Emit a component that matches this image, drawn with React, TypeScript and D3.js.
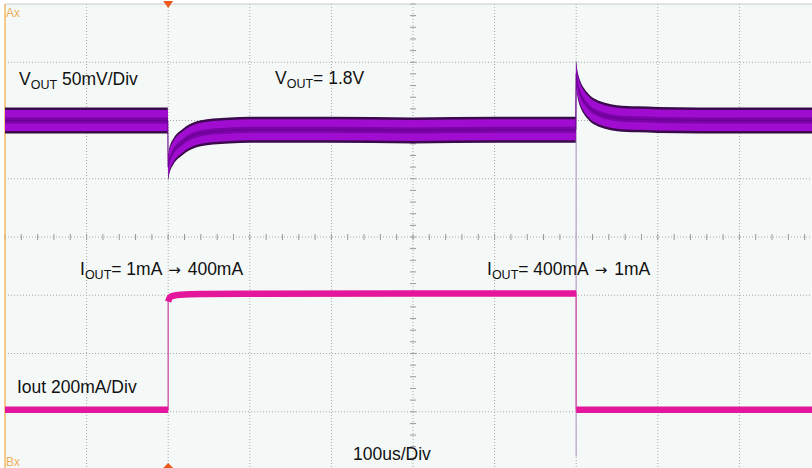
import React from "react";
import * as d3 from "d3";

// ---- data ----
// time axis in microseconds (100us / div)
const vTime = [0, 199.5, 200, 201, 203, 206, 210, 215, 222, 230, 240, 255, 275, 300, 350, 400, 500, 600, 699.5, 700, 701, 703, 706, 710, 716, 724, 735, 750, 775, 800, 900, 1000];
// VOUT deviation from 1.8V in mV (50mV / div)
const vMv = [0, 0, -40, -36, -31, -27, -23, -20, -16, -13, -11, -9.5, -8.5, -8, -8, -8, -8.5, -8, -8, 40, 34, 27, 21, 16, 11, 7, 4, 2, 1, 0.5, 0, 0];
// IOUT in mA (200mA / div)
const iTime = [0, 200, 200, 202, 206, 215, 240, 300, 500, 700, 700, 1000];
const iMa = [1, 1, 372, 386, 392, 396, 398, 399, 400, 400, 1, 1];

const W = 812;
const H = 468;
const left = 5;
const top = 4;
const divX = 81.6;
const divY = 58.25;

export default function App() {
  const x = d3.scaleLinear().domain([0, 1000]).range([left, left + 10 * divX]);
  const yV = d3.scaleLinear().domain([-300, 100]).range([top + 8 * divY, top]);
  const yI = d3.scaleLinear().domain([-206, 1394]).range([top + 8 * divY, top]);

  const vPts = vTime.map((t, i) => ({ t, v: vMv[i] }));
  const band = (hw: number) =>
    d3
      .area<{ t: number; v: number }>()
      .x((d) => x(d.t))
      .y0((d) => yV(d.v) - hw)
      .y1((d) => yV(d.v) + hw)
      .curve(d3.curveMonotoneX)(vPts) || "";
  const vLine =
    d3
      .line<{ t: number; v: number }>()
      .x((d) => x(d.t))
      .y((d) => yV(d.v))
      .curve(d3.curveMonotoneX)(vPts) || "";

  const iPts = iTime.map((t, i) => ({ t, v: iMa[i] }));
  const iLine = d3
    .line<{ t: number; v: number }>()
    .x((d) => x(d.t))
    .y((d) => yI(d.v));
  const iFull = iLine(iPts) || "";
  const iLow1 = iLine(iPts.slice(0, 2)) || "";
  const iHigh = iLine.curve(d3.curveMonotoneX)(iPts.slice(2, 10)) || "";
  const iLow2 = iLine.curve(d3.curveLinear)(iPts.slice(10)) || "";

  const vGrid = d3.range(1, 10).map((k) => left + k * divX);
  const hGrid = d3.range(1, 8).map((k) => top + k * divY);
  const cx = left + 5 * divX;
  const cy = top + 4 * divY;
  const xTicks = d3.range(0, 50).map((k) => left + (k * divX) / 5);
  const yTicks = d3.range(0, 40).map((k) => top + (k * divY) / 5);

  const font = "'Liberation Sans', Arial, Helvetica, sans-serif";
  const trig = x(200);
  const arrowFont = "'DejaVu Sans', sans-serif";

  return (
    <svg
      width={W}
      height={H}
      style={{ position: "absolute", left: 0, top: 0, background: "#ffffff" }}
      fontFamily={font}
    >
      <rect x={left} y={top} width={W - left} height={H - top} fill="#f4f9f7" />
      {/* grid */}
      <g stroke="#a9a9a9" strokeWidth={1} strokeDasharray="1,2">
        {vGrid.map((gx) => (
          <line key={"v" + gx} x1={gx} x2={gx} y1={top} y2={H} />
        ))}
        {hGrid.map((gy) => (
          <line key={"h" + gy} x1={left} x2={W} y1={gy} y2={gy} />
        ))}
      </g>
      <g stroke="#999" strokeWidth={1}>
        {xTicks.map((tx) => (
          <line key={"tx" + tx} x1={tx} x2={tx} y1={cy - 3} y2={cy + 3} />
        ))}
        {yTicks.map((ty) => (
          <line key={"ty" + ty} x1={cx - 3} x2={cx + 3} y1={ty} y2={ty} />
        ))}
      </g>
      {/* borders */}
      <line x1={left} x2={W} y1={top} y2={top} stroke="#c8c8c8" strokeWidth={1} />
      <line x1={left} x2={left} y1={top} y2={H} stroke="#f2b866" strokeWidth={1.5} />

      {/* transition line */}
      <line x1={x(700)} x2={x(700)} y1={yV(40) - 12} y2={yI(-160)} stroke="#c6b2d2" strokeWidth={1.5} />

      {/* VOUT band */}
      <path d={band(13)} fill="#3a0a4c" />
      <path d={band(10.5)} fill="#a00cd0" />
      <path d={band(3)} fill="#7a04a6" />
      <path d={vLine} fill="none" stroke="#6a0094" strokeWidth={1} />

      {/* IOUT */}
      <path d={iFull} fill="none" stroke="#d465b0" strokeWidth={1.5} />
      <path d={iLow1} fill="none" stroke="#e3169c" strokeWidth={6.5} />
      <path d={iHigh} fill="none" stroke="#e3169c" strokeWidth={6.5} />
      <path d={iLow2} fill="none" stroke="#e3169c" strokeWidth={6.5} />

      {/* trigger markers */}
      <path d={`M${trig - 5},${top - 3}L${trig + 5},${top - 3}L${trig},${top + 4}Z`} fill="#ee5a1e" />
      <path d={`M${trig - 5},${H}L${trig + 5},${H}L${trig},${H - 5}Z`} fill="#ee5a1e" />

      {/* labels */}
      <g fill="#111" fontSize={17.5}>
        <text x={19} y={85}>
          V<tspan fontSize={12.5} dy={4}>OUT</tspan>
          <tspan dy={-4}> 50mV/Div</tspan>
        </text>
        <text x={275} y={84}>
          V<tspan fontSize={12.5} dy={4}>OUT</tspan>
          <tspan dy={-4}>= 1.8V</tspan>
        </text>
        <text x={80} y={275}>
          I<tspan fontSize={12.5} dy={4}>OUT</tspan>
          <tspan dy={-4}>= 1mA </tspan>
          <tspan fontFamily={arrowFont} fontSize={15} dx={2}>→</tspan>
          <tspan dx={2}> 400mA</tspan>
        </text>
        <text x={487} y={275}>
          I<tspan fontSize={12.5} dy={4}>OUT</tspan>
          <tspan dy={-4}>= 400mA </tspan>
          <tspan fontFamily={arrowFont} fontSize={15} dx={2}>→</tspan>
          <tspan dx={2}> 1mA</tspan>
        </text>
        <text x={17} y={393}>Iout 200mA/Div</text>
        <text x={353} y={460}>100us/Div</text>
      </g>
      <text x={6} y={17} fontSize={12} fill="#f0ae5a">Ax</text>
      <text x={6} y={466} fontSize={12} fill="#f0ae5a">Bx</text>
    </svg>
  );
}
